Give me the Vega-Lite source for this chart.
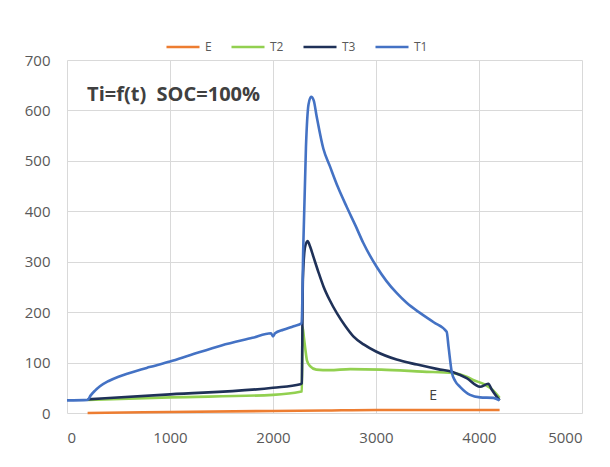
{
  "$schema": "https://vega.github.io/schema/vega-lite/v6.json",
  "width": 515,
  "height": 353,
  "autosize": {"type": "none"},
  "padding": {"left": 67, "top": 60, "right": 28, "bottom": 54},
  "background": "white",
  "config": {
    "view": {"stroke": null},
    "font": "Open Sans"
  },
  "datasets": {
    "series": [
      {"s": "E", "t": 200, "v": 0},
      {"s": "E", "t": 1000, "v": 2},
      {"s": "E", "t": 2000, "v": 4},
      {"s": "E", "t": 2500, "v": 5},
      {"s": "E", "t": 3000, "v": 6},
      {"s": "E", "t": 4200, "v": 6},

      {"s": "T2", "t": 200, "v": 26},
      {"s": "T2", "t": 1000, "v": 31},
      {"s": "T2", "t": 2000, "v": 36},
      {"s": "T2", "t": 2265, "v": 42},
      {"s": "T2", "t": 2280, "v": 43},
      {"s": "T2", "t": 2287, "v": 171},
      {"s": "T2", "t": 2300, "v": 150},
      {"s": "T2", "t": 2315, "v": 125},
      {"s": "T2", "t": 2330, "v": 104},
      {"s": "T2", "t": 2360, "v": 93},
      {"s": "T2", "t": 2420, "v": 86},
      {"s": "T2", "t": 2550, "v": 85},
      {"s": "T2", "t": 2750, "v": 87},
      {"s": "T2", "t": 3050, "v": 86},
      {"s": "T2", "t": 3450, "v": 82},
      {"s": "T2", "t": 3750, "v": 79},
      {"s": "T2", "t": 3880, "v": 72},
      {"s": "T2", "t": 3950, "v": 65},
      {"s": "T2", "t": 4050, "v": 57},
      {"s": "T2", "t": 4120, "v": 48},
      {"s": "T2", "t": 4200, "v": 30},

      {"s": "T3", "t": 200, "v": 27},
      {"s": "T3", "t": 1000, "v": 37},
      {"s": "T3", "t": 2000, "v": 50},
      {"s": "T3", "t": 2265, "v": 57},
      {"s": "T3", "t": 2280, "v": 59},
      {"s": "T3", "t": 2290, "v": 264},
      {"s": "T3", "t": 2312, "v": 330},
      {"s": "T3", "t": 2336, "v": 341},
      {"s": "T3", "t": 2360, "v": 330},
      {"s": "T3", "t": 2392, "v": 310},
      {"s": "T3", "t": 2440, "v": 280},
      {"s": "T3", "t": 2490, "v": 251},
      {"s": "T3", "t": 2550, "v": 224},
      {"s": "T3", "t": 2620, "v": 198},
      {"s": "T3", "t": 2700, "v": 173},
      {"s": "T3", "t": 2780, "v": 152},
      {"s": "T3", "t": 2880, "v": 136},
      {"s": "T3", "t": 3000, "v": 122},
      {"s": "T3", "t": 3200, "v": 106},
      {"s": "T3", "t": 3400, "v": 96},
      {"s": "T3", "t": 3600, "v": 87},
      {"s": "T3", "t": 3750, "v": 81},
      {"s": "T3", "t": 3880, "v": 69},
      {"s": "T3", "t": 4010, "v": 52},
      {"s": "T3", "t": 4090, "v": 58},
      {"s": "T3", "t": 4125, "v": 46},
      {"s": "T3", "t": 4200, "v": 25},

      {"s": "T1", "t": 0, "v": 25},
      {"s": "T1", "t": 200, "v": 26},
      {"s": "T1", "t": 230, "v": 35},
      {"s": "T1", "t": 270, "v": 44},
      {"s": "T1", "t": 320, "v": 53},
      {"s": "T1", "t": 400, "v": 63},
      {"s": "T1", "t": 500, "v": 72},
      {"s": "T1", "t": 600, "v": 79},
      {"s": "T1", "t": 800, "v": 91},
      {"s": "T1", "t": 1000, "v": 102},
      {"s": "T1", "t": 1200, "v": 115},
      {"s": "T1", "t": 1500, "v": 134},
      {"s": "T1", "t": 1800, "v": 149},
      {"s": "T1", "t": 1980, "v": 158},
      {"s": "T1", "t": 2000, "v": 152},
      {"s": "T1", "t": 2020, "v": 158},
      {"s": "T1", "t": 2100, "v": 165},
      {"s": "T1", "t": 2200, "v": 172},
      {"s": "T1", "t": 2278, "v": 178},
      {"s": "T1", "t": 2294, "v": 330},
      {"s": "T1", "t": 2320, "v": 528},
      {"s": "T1", "t": 2345, "v": 612},
      {"s": "T1", "t": 2370, "v": 627},
      {"s": "T1", "t": 2395, "v": 620},
      {"s": "T1", "t": 2424, "v": 588},
      {"s": "T1", "t": 2489, "v": 524},
      {"s": "T1", "t": 2553, "v": 489},
      {"s": "T1", "t": 2630, "v": 448},
      {"s": "T1", "t": 2715, "v": 409},
      {"s": "T1", "t": 2800, "v": 372},
      {"s": "T1", "t": 2877, "v": 337},
      {"s": "T1", "t": 3006, "v": 290},
      {"s": "T1", "t": 3100, "v": 262},
      {"s": "T1", "t": 3200, "v": 238},
      {"s": "T1", "t": 3300, "v": 218},
      {"s": "T1", "t": 3430, "v": 198},
      {"s": "T1", "t": 3560, "v": 180},
      {"s": "T1", "t": 3686, "v": 161},
      {"s": "T1", "t": 3705, "v": 130},
      {"s": "T1", "t": 3735, "v": 82},
      {"s": "T1", "t": 3770, "v": 63},
      {"s": "T1", "t": 3816, "v": 52},
      {"s": "T1", "t": 3913, "v": 36},
      {"s": "T1", "t": 4010, "v": 31},
      {"s": "T1", "t": 4139, "v": 30},
      {"s": "T1", "t": 4200, "v": 25}
    ]
  },
  "layer": [
    {
      "data": {"name": "series"},
      "mark": {"type": "line", "strokeWidth": 2.6, "interpolate": "monotone"},
      "encoding": {
        "x": {
          "field": "t", "type": "quantitative",
          "scale": {"domain": [0, 5000], "nice": false},
          "axis": {
            "title": null, "values": [0, 1000, 2000, 3000, 4000, 5000], "format": "d",
            "grid": true, "gridColor": "#D9D9D9", "gridWidth": 1,
            "domain": false, "ticks": false,
            "labelFont": "Open Sans", "labelFontSize": 15, "labelColor": "#595959",
            "labelPadding": 17
          }
        },
        "y": {
          "field": "v", "type": "quantitative",
          "scale": {"domain": [0, 700], "nice": false},
          "axis": {
            "title": null, "values": [0, 100, 200, 300, 400, 500, 600, 700], "format": "d",
            "grid": true, "gridColor": "#D9D9D9", "gridWidth": 1,
            "domain": false, "ticks": false,
            "labelFont": "Open Sans", "labelFontSize": 15, "labelColor": "#595959",
            "labelPadding": 17
          }
        },
        "color": {
          "field": "s", "type": "nominal",
          "scale": {"domain": ["E", "T2", "T3", "T1"], "range": ["#ED7D31", "#92D050", "#1F3158", "#4472C4"]},
          "legend": {
            "title": null, "orient": "none", "direction": "horizontal",
            "legendX": 98, "legendY": -31,
            "symbolType": "stroke", "symbolSize": 1090, "symbolStrokeWidth": 2.5,
            "labelFont": "Open Sans", "labelFontSize": 12, "labelColor": "#595959",
            "labelOffset": 4, "columnPadding": 14
          }
        }
      }
    },
    {
      "data": {"values": [{"label": "Ti=f(t)\u00a0 SOC=100%"}]},
      "mark": {"type": "text", "align": "left", "baseline": "middle", "font": "Open Sans", "fontSize": 20, "fontWeight": "bold", "color": "#404040"},
      "encoding": {
        "x": {"datum": 195},
        "y": {"datum": 630},
        "text": {"field": "label"}
      }
    },
    {
      "data": {"values": [{"label": "E"}]},
      "mark": {"type": "text", "align": "center", "baseline": "middle", "font": "Open Sans", "fontSize": 14, "color": "#404040"},
      "encoding": {
        "x": {"datum": 3555},
        "y": {"datum": 33},
        "text": {"field": "label"}
      }
    }
  ]
}
